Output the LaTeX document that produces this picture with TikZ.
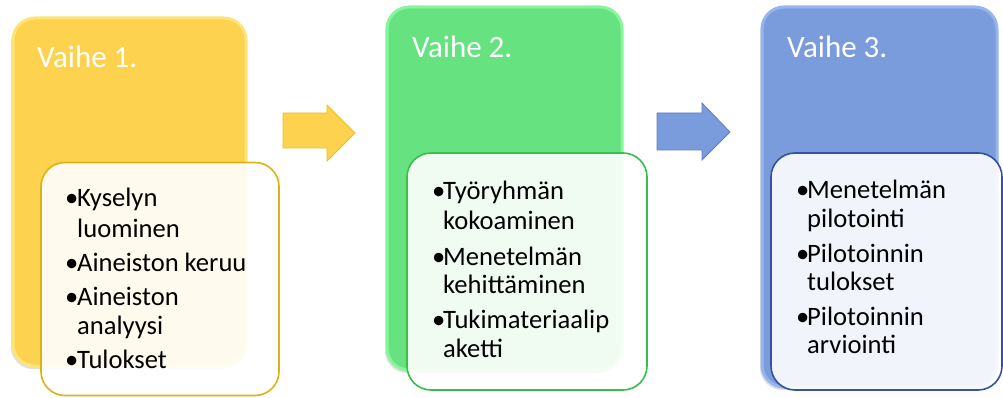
\documentclass[tikz,border=0pt]{standalone}
\usepackage{fontspec}
\setmainfont{Carlito}
\usetikzlibrary{shadows}
\definecolor{yelF}{RGB}{252,210,78}
\definecolor{yelE}{RGB}{254,228,120}
\definecolor{yelB}{RGB}{222,178,20}
\definecolor{grnF}{RGB}{102,226,128}
\definecolor{grnE}{RGB}{135,245,155}
\definecolor{grnB}{RGB}{55,190,75}
\definecolor{bluF}{RGB}{122,155,220}
\definecolor{bluE}{RGB}{150,180,238}
\definecolor{bluB}{RGB}{52,82,160}
\begin{document}
\begin{tikzpicture}[x=1pt,y=-1pt,
  outerbox/.style={rounded corners=22pt, inner sep=0pt, line width=3pt,
     drop shadow={shadow xshift=-2pt, shadow yshift=-3pt, opacity=0.25}},
  innerbox/.style={rounded corners=24pt, inner sep=0pt, line width=1.6pt,
     fill=white, fill opacity=0.9},
  titletxt/.style={font=\fontsize{31}{36}\selectfont, text=white, anchor=base west, inner sep=0pt},
  itemtxt/.style={font=\fontsize{26.6}{30}\selectfont, text=black, anchor=base west, inner sep=0pt},
  arrowshape/.style={line width=0.8pt}
]
\useasboundingbox (0,0) rectangle (1003,398);
% outer boxes
\node[outerbox, fill=yelF, draw=yelE, minimum width=233pt, minimum height=348pt] (b1) at (129.5,192) {};
\node[outerbox, fill=grnF, draw=grnE, minimum width=235pt, minimum height=363pt] (b2) at (504.5,188.5) {};
\node[outerbox, fill=bluF, draw=bluE, minimum width=235pt, minimum height=380pt] (b3) at (879.5,197) {};
% titles
\node[titletxt] (t1) at (37,68) {Vaihe 1.};
\node[titletxt] (t2) at (412,58) {Vaihe 2.};
\node[titletxt] (t3) at (787,58) {Vaihe 3.};
% arrows
\fill[yelF, draw=yelB!60!yelF, arrowshape] (283,113) -- (327,113) -- (327,105) -- (355,133) -- (327,161) -- (327,148) -- (283,148) -- cycle;
\fill[bluF, draw=bluB!40!bluF, arrowshape] (657,113) -- (702,113) -- (702,103) -- (730,132) -- (702,160) -- (702,150) -- (657,150) -- cycle;
% inner boxes
\node[innerbox, draw=yelB, minimum width=238pt, minimum height=233pt] (i1) at (160,279) {};
\node[innerbox, draw=grnB, minimum width=240pt, minimum height=237pt] (i2) at (527,271.5) {};
\node[innerbox, draw=bluB, minimum width=231pt, minimum height=237pt] (i3) at (886.5,271.5) {};
% box 1 items
\node[itemtxt] (p1a) at (65,207) {•};
\node[itemtxt] (l1a) at (77,207) {Kyselyn};
\node[itemtxt] (l1b) at (77,237) {luominen};
\node[itemtxt] (p1b) at (65,271) {•};
\node[itemtxt] (l1c) at (77,271) {Aineiston keruu};
\node[itemtxt] (p1c) at (65,305) {•};
\node[itemtxt] (l1d) at (77,305) {Aineiston};
\node[itemtxt] (l1e) at (77,334) {analyysi};
\node[itemtxt] (p1d) at (65,368) {•};
\node[itemtxt] (l1f) at (77,368) {Tulokset};
% box 2 items
\node[itemtxt] (p2a) at (432,200) {•};
\node[itemtxt] (l2a) at (443,200) {Työryhmän};
\node[itemtxt] (l2b) at (443,229) {kokoaminen};
\node[itemtxt] (p2b) at (432,265) {•};
\node[itemtxt] (l2c) at (443,265) {Menetelmän};
\node[itemtxt] (l2d) at (443,293) {kehittäminen};
\node[itemtxt] (p2c) at (432,328) {•};
\node[itemtxt] (l2e) at (443,328) {Tukimateriaalip};
\node[itemtxt] (l2f) at (443,357) {aketti};
% box 3 items
\node[itemtxt] (p3a) at (796,198) {•};
\node[itemtxt] (l3a) at (807,198) {Menetelmän};
\node[itemtxt] (l3b) at (807,227) {pilotointi};
\node[itemtxt] (p3b) at (796,262) {•};
\node[itemtxt] (l3c) at (807,262) {Pilotoinnin};
\node[itemtxt] (l3d) at (807,290) {tulokset};
\node[itemtxt] (p3c) at (796,325) {•};
\node[itemtxt] (l3e) at (807,325) {Pilotoinnin};
\node[itemtxt] (l3f) at (807,353) {arviointi};
\end{tikzpicture}
\end{document}
